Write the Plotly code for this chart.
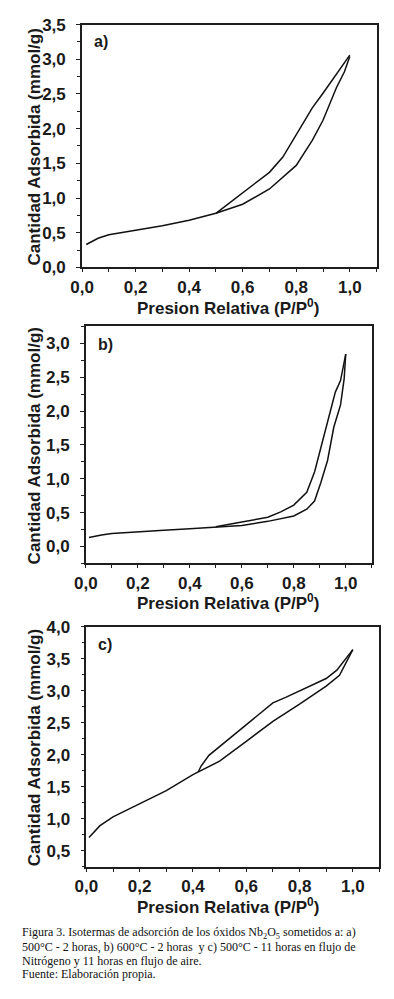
import plotly.graph_objects as go

# The page body has an 8px margin, so the figure is 8px smaller and every
# position below (given in screen pixels of the reference) is shifted by 8.
OFF = 8
W, H = 394 - OFF, 999 - OFF

# ---------------- data ----------------
ads_a_x = [0.016, 0.06, 0.1, 0.2, 0.3, 0.4, 0.5, 0.6, 0.7, 0.8, 0.86, 0.9, 0.95, 0.98, 1.0]
ads_a_y = [0.33, 0.42, 0.47, 0.53, 0.60, 0.68, 0.78, 0.91, 1.13, 1.47, 1.83, 2.12, 2.59, 2.82, 3.04]
des_a_x = [1.0, 0.95, 0.9, 0.86, 0.8, 0.75, 0.7, 0.6, 0.5]
des_a_y = [3.06, 2.78, 2.51, 2.30, 1.91, 1.59, 1.37, 1.07, 0.78]

ads_b_x = [0.012, 0.06, 0.1, 0.2, 0.3, 0.4, 0.5, 0.6, 0.7, 0.8, 0.85, 0.88, 0.904, 0.93, 0.954, 0.98, 0.994, 1.0]
ads_b_y = [0.13, 0.17, 0.19, 0.22, 0.24, 0.26, 0.28, 0.31, 0.37, 0.45, 0.55, 0.67, 0.94, 1.27, 1.76, 2.09, 2.48, 2.84]
des_b_x = [1.0, 0.98, 0.96, 0.93, 0.9, 0.88, 0.85, 0.8, 0.75, 0.7, 0.6, 0.5]
des_b_y = [2.84, 2.45, 2.28, 1.85, 1.39, 1.10, 0.80, 0.61, 0.51, 0.43, 0.36, 0.29]

ads_c_x = [0.01, 0.05, 0.1, 0.2, 0.3, 0.4, 0.42, 0.5, 0.6, 0.7, 0.8, 0.9, 0.95, 0.976, 1.0]
ads_c_y = [0.71, 0.89, 1.03, 1.24, 1.44, 1.69, 1.73, 1.90, 2.21, 2.52, 2.79, 3.07, 3.24, 3.45, 3.64]
des_c_x = [1.0, 0.94, 0.9, 0.8, 0.75, 0.7, 0.6, 0.5, 0.46, 0.43, 0.42]
des_c_y = [3.64, 3.32, 3.19, 2.99, 2.90, 2.81, 2.47, 2.13, 1.99, 1.82, 1.73]

panel_labels = ["a)", "b)", "c)"]
x_title = "Presion Relativa (P/P<sup>0</sup>)"
y_title = "Cantidad Adsorbida (mmol/g)"
caption = [
    "Figura 3. Isotermas de adsorción de los óxidos Nb<sub>2</sub>O<sub>5</sub> sometidos a: a)",
    "500°C - 2 horas, b) 600°C - 2 horas  y c) 500°C - 11 horas en flujo de",
    "Nitrógeno y 11 horas en flujo de aire.",
    "Fuente: Elaboración propia.",
]

# ---------------- layout geometry (reference screen pixels) ----------------
panels = [
    dict(x0=72, x1=376, top=15.7, bot=263.3, yr=[0, 3.5], y0tick=0.0,
         xt_y=304, lab=(82, 33)),
    dict(x0=76, x1=371, top=323.5, bot=565, yr=[-0.25, 3.25], y0tick=0.0,
         xt_y=604, lab=(86, 342)),
    dict(x0=76.5, x1=379, top=629.5, bot=874.5, yr=[0.25, 4.0], y0tick=0.5,
         xt_y=914, lab=(86, 648)),
]
series = [(ads_a_x, ads_a_y, des_a_x, des_a_y),
          (ads_b_x, ads_b_y, des_b_x, des_b_y),
          (ads_c_x, ads_c_y, des_c_x, des_c_y)]

def px(x):
    return (x - OFF) / W

def py(y):
    return 1 - (y - OFF) / H

FONT = "Liberation Sans"
LINE = "#111111"
AX = "#1e1e1e"
fig = go.Figure()
ann = []

for i, (p, s) in enumerate(zip(panels, series)):
    n = "" if i == 0 else str(i + 1)
    xa, ya = "x" + n, "y" + n
    ax, ay, dx, dy = s
    for xs, ys in ((ax, ay), (dx, dy)):
        fig.add_trace(go.Scatter(x=xs, y=ys, mode="lines", xaxis=xa, yaxis=ya,
                                 line=dict(color=LINE, width=1.5), showlegend=False,
                                 hoverinfo="skip"))
    common = dict(showgrid=False, zeroline=False, showline=True, linecolor=AX,
                  linewidth=1.6, mirror=True, ticks="outside", tickcolor=AX,
                  tickwidth=1.2, tickformat=".1f",
                  tickfont=dict(family=FONT, size=17, color="#1a1a1a", weight="bold"))
    fig.update_layout(**{
        "xaxis" + n: dict(common, domain=[px(p["x0"]), px(p["x1"])], range=[0, 1.1],
                          tick0=0, dtick=0.2, ticklen=3, ticklabelstandoff=0,
                          minor=dict(dtick=0.1, ticks="outside", ticklen=3,
                                     tickcolor=AX, tickwidth=1.2),
                          anchor=ya),
        "yaxis" + n: dict(common, domain=[py(p["bot"]), py(p["top"])], range=p["yr"],
                          tick0=p["y0tick"], dtick=0.5, ticklen=4, ticklabelstandoff=7,
                          minor=dict(dtick=0.25, ticks="outside", ticklen=3,
                                     tickcolor=AX, tickwidth=1.0),
                          anchor=xa),
    })
    ann.append(dict(text="<b>" + x_title + "</b>", x=px(223), y=py(p["xt_y"]),
                    xref="paper", yref="paper", showarrow=False, xanchor="center",
                    yanchor="middle", font=dict(family=FONT, size=17, color="#1a1a1a")))
    cy = (p["top"] + p["bot"]) / 2 + 1
    ann.append(dict(text="<b>" + y_title + "</b>", x=px(23), y=py(cy), textangle=-90,
                    xref="paper", yref="paper", showarrow=False, xanchor="center",
                    yanchor="middle", font=dict(family=FONT, size=17, color="#1a1a1a")))
    ann.append(dict(text="<b>" + panel_labels[i] + "</b>", x=px(p["lab"][0]),
                    y=py(p["lab"][1]), xref="paper", yref="paper", showarrow=False,
                    xanchor="left", yanchor="middle",
                    font=dict(family=FONT, size=16, color="#1a1a1a")))

for j, line in enumerate(caption):
    ann.append(dict(text=line, x=px(8), y=py(942 + 14 * j), xref="paper", yref="paper",
                    showarrow=False, xanchor="left", yanchor="middle",
                    font=dict(family="Liberation Serif", size=12, color="#111111")))

fig.update_layout(width=W, height=H, margin=dict(l=0, r=0, t=0, b=0),
                  paper_bgcolor="white", plot_bgcolor="white", separators=",.",
                  annotations=ann)

fig.write_html("out.html")
